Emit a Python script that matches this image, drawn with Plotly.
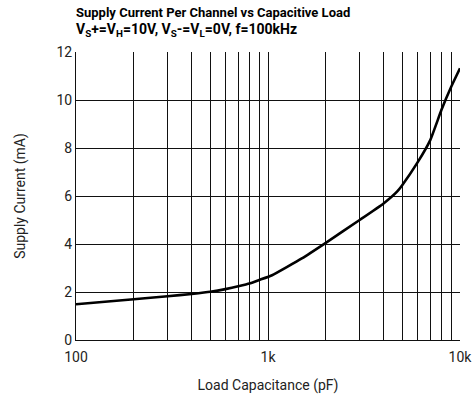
import plotly.graph_objects as go

cap_pf = [100, 200, 300, 400, 500, 600, 700, 800, 900, 1050, 1500, 2000, 3000, 4000, 4700, 5000, 6000, 7000, 8000, 9000, 10000]
current_ma = [1.49, 1.70, 1.82, 1.92, 2.01, 2.12, 2.24, 2.35, 2.50, 2.70, 3.40, 4.05, 5.00, 5.69, 6.18, 6.45, 7.39, 8.33, 9.58, 10.55, 11.32]

x_ticks = [100, 200, 300, 400, 500, 600, 700, 800, 900,
           1000, 2000, 3000, 4000, 5000, 6000, 7000, 8000, 9000, 10000]
x_labels = ["100", "", "", "", "", "", "", "", "",
            "1k", "", "", "", "", "", "", "", "", "10k"]
y_ticks = [0, 2, 4, 6, 8, 10, 12]

title_line1 = "Supply Current Per Channel vs Capacitive Load"
title_line2 = "V<sub>S</sub>+=V<sub>H</sub>=10V, V<sub>S</sub>-=V<sub>L</sub>=0V, f=100kHz"

FONT = "Roboto, Liberation Sans, sans-serif"

fig = go.Figure()
fig.add_trace(go.Scatter(x=cap_pf, y=current_ma, mode="lines",
                         line=dict(color="black", width=2.6, shape="spline", smoothing=0.4),
                         hoverinfo="skip", showlegend=False))

fig.add_annotation(text="<b>" + title_line1 + "</b>", xref="paper", yref="paper",
                   x=0, y=1, xanchor="left", yanchor="bottom", yshift=30, xshift=-2,
                   showarrow=False, font=dict(family=FONT, size=13, color="black"))
fig.add_annotation(text="<b>" + title_line2 + "</b>", xref="paper", yref="paper",
                   x=0, y=1, xanchor="left", yanchor="bottom", yshift=11, xshift=-2,
                   showarrow=False, font=dict(family=FONT, size=14, color="black"))

fig.update_layout(
    width=472, height=400,
    margin=dict(l=76, r=12, t=52, b=60),
    paper_bgcolor="white", plot_bgcolor="white",
    font=dict(family=FONT, color="#222", size=13),
    xaxis=dict(type="log", range=[2, 4], tickvals=x_ticks, ticktext=x_labels,
               showgrid=True, gridcolor="#111", gridwidth=1,
               showline=True, linecolor="#111", linewidth=1, mirror=False,
               ticks="", tickfont=dict(size=14, color="#222"), ticklabelstandoff=4,
               ticklabeloverflow="allow", automargin=False,
               title=dict(text="Load Capacitance (pF)", font=dict(size=14, color="#222"), standoff=16),
               zeroline=False),
    yaxis=dict(range=[0, 12], tickvals=y_ticks,
               showgrid=True, gridcolor="#111", gridwidth=1,
               showline=True, linecolor="#111", linewidth=1,
               ticks="", tickfont=dict(size=14, color="#222"), automargin=False,
               title=dict(text="Supply Current (mA)", font=dict(size=14, color="#222"), standoff=27),
               zeroline=False),
)

# remove the browser's default 8px page margin so the figure sits at the window's corner
fig.write_html("out.html", config={"displayModeBar": False},
               post_script="document.body.style.margin='0';")
